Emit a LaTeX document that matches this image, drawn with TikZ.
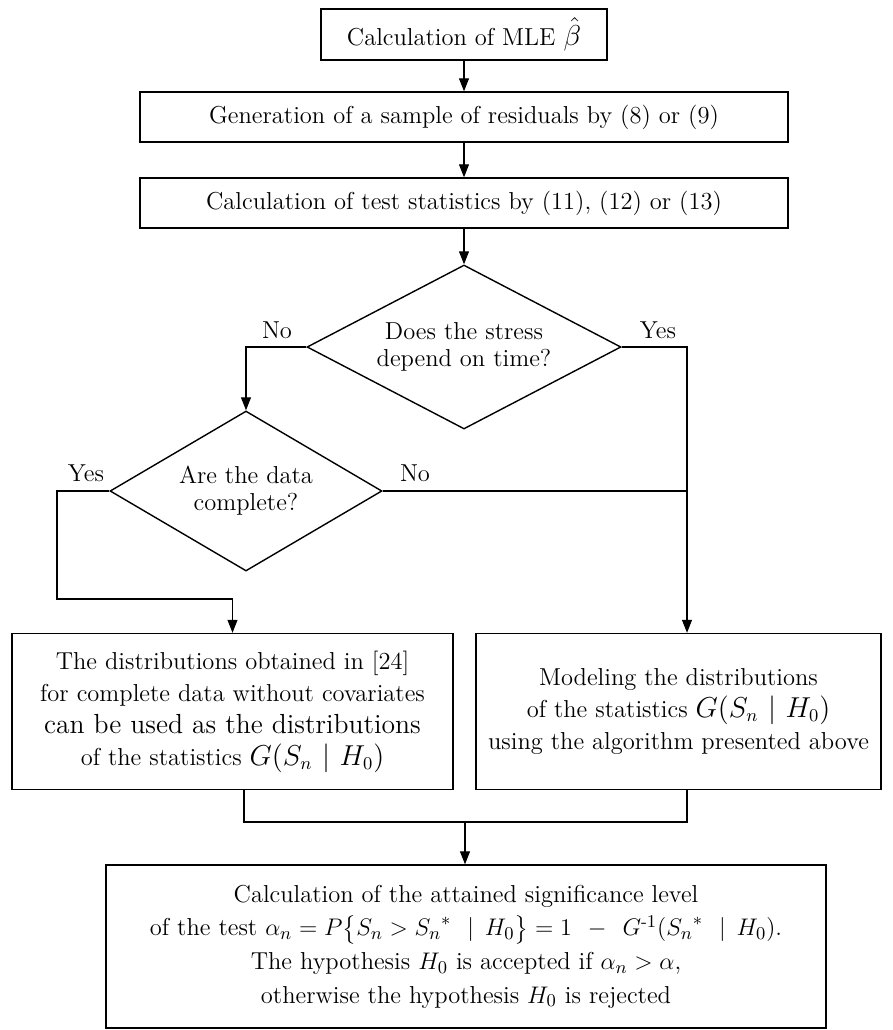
\documentclass[tikz,border=0pt]{standalone}
\usepackage{amsmath}
\usetikzlibrary{shapes.geometric,arrows.meta}
\newcommand{\lgmath}[1]{{\fontsize{13.5}{16}\selectfont #1}}
\begin{document}
\begin{tikzpicture}[x=0.5pt,y=-0.5pt,
  every node/.style={font=\fontsize{12.25}{16}\selectfont},
  box/.style={draw,line width=0.7pt,rectangle,inner sep=0pt,align=center},
  dia/.style={draw,line width=0.7pt,diamond,inner sep=0pt,align=center,font=\fontsize{12.25}{13.5}\selectfont},
  lbl/.style={inner sep=0pt},
  conn/.style={line width=0.6pt},
  arr/.style={conn,-{Triangle[length=6.5pt,width=5pt]}}]
\useasboundingbox (0,0) rectangle (893,1030);
\node[box,minimum width=143pt,minimum height=25.5pt] (b1) at (464,34.5) {Calculation of MLE {\fontsize{15}{16}\selectfont$\hat{\beta}$}};
\node[box,minimum width=324pt,minimum height=25pt] (b2) at (464,117) {Generation of a sample of residuals by (8) or (9)};
\node[box,minimum width=324pt,minimum height=25pt] (b3) at (464,203) {Calculation of test statistics by (11), (12) or (13)};
\node[dia,shape aspect=1.9,minimum width=157pt,minimum height=82pt] (d1) at (464,347) {Does the stress\\depend on time?};
\node[dia,shape aspect=1.7,minimum width=136pt,minimum height=80pt] (d2) at (246,491) {Are the data\\complete?};
\node[box,minimum width=220.5pt,minimum height=78pt] (lb) at (232.5,711.5) {The distributions obtained in [24]\\for complete data without covariates\\{\fontsize{13.8}{16}\selectfont can be used as the distributions}\\of the statistics \lgmath{$G(S_n\mskip6mu|\mskip6mu H_0)$}};
\node[box,minimum width=202.5pt,minimum height=78pt] (rb) at (678.5,711.5) {Modeling the distributions\\of the statistics \lgmath{$G(S_n\mskip6mu|\mskip6mu H_0)$}\\using the algorithm presented above};
\node[box,minimum width=360pt,minimum height=81.5pt,font=\fontsize{12.25}{16.8}\selectfont] (fb) at (466,946.5) {Calculation of the attained significance level\\of the test $\alpha_n=P\bigl\{S_n>{S_n}^{*}\mskip12mu|\mskip8mu H_0\bigr\}=1\;\,-\;\,G^{\text{-}1}({S_n}^{*}\mskip12mu|\mskip8mu H_0)$.\\The hypothesis $H_0$ is accepted if $\alpha_n>\alpha$,\\otherwise the hypothesis $H_0$ is rejected};
\node[lbl] (no1) at (277,330) {No};
\node[lbl] (yes1) at (658,330) {Yes};
\node[lbl] (yes2) at (86,473) {Yes};
\node[lbl] (no2) at (415,473) {No};
\coordinate (rj) at (687,491);
\coordinate (yk) at (57,599);
\coordinate (mj) at (465,822);
\coordinate (ml) at (244,822);
\coordinate (mr) at (687,822);
\draw[arr] (b1.south) -- (b2.north);
\draw[arr] (b2.south) -- (b3.north);
\draw[arr] (b3.south) -- (d1.north);
\draw[arr] (d1.west) -| (d2.north);
\draw[arr] (d1.east) -| (rj) -- (rj |- rb.north);
\draw[conn] (d2.east) -- (rj);
\draw[arr] (d2.west) -| (yk) -| (lb.north);
\draw[conn] (ml |- lb.south) -- (ml) -- (mr) -- (mr |- rb.south);
\draw[arr] (mj) -- (mj |- fb.north);
\end{tikzpicture}
\end{document}
